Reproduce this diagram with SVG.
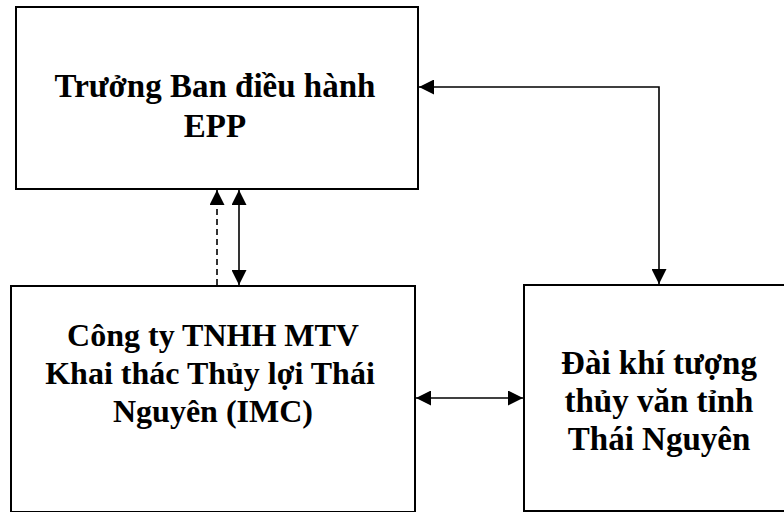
<svg xmlns="http://www.w3.org/2000/svg" width="784" height="512" viewBox="0 0 784 512">
<defs>
<style>
.box{fill:#fff;stroke:#000;stroke-width:2}
.lbl{font-family:"Liberation Serif","Times New Roman",serif;font-weight:bold;font-size:33px;fill:#000;text-anchor:middle}
.sm{font-size:32px}
.c{fill:none;stroke:#000;stroke-width:1.6}
.d{stroke-dasharray:6,4}
</style>
<marker id="ah" viewBox="0 0 15 15" refX="15" refY="7.5" markerWidth="15" markerHeight="15" markerUnits="userSpaceOnUse" orient="auto-start-reverse">
<path d="M0,0 L15,7.5 L0,15 Z" fill="#000"/>
</marker>
</defs>
<rect width="784" height="512" fill="#fff"/>
<g id="epp">
<rect class="box" x="16" y="7" width="402" height="182"/>
<text class="lbl" x="215" y="97">Trưởng Ban điều hành</text>
<text class="lbl" x="215" y="137">EPP</text>
</g>
<g id="imc">
<rect class="box" x="11" y="286" width="404" height="226"/>
<text class="lbl sm" x="213" y="346">Công ty TNHH MTV</text>
<text class="lbl sm" x="210" y="384">Khai thác Thủy lợi Thái</text>
<text class="lbl sm" x="213" y="422">Nguyên (IMC)</text>
</g>
<g id="dai">
<rect class="box" x="524" y="285" width="272" height="226"/>
<text class="lbl" x="659" y="374">Đài khí tượng</text>
<text class="lbl" x="659" y="412">thủy văn tỉnh</text>
<text class="lbl" x="659" y="450">Thái Nguyên</text>
</g>
<g id="connectors">
<line class="c d" x1="217" y1="285" x2="217" y2="190" marker-end="url(#ah)"/>
<line class="c" x1="239" y1="190" x2="239" y2="285" marker-start="url(#ah)" marker-end="url(#ah)"/>
<polyline class="c" points="419,87 659,87 659,284" marker-start="url(#ah)" marker-end="url(#ah)"/>
<line class="c" x1="416" y1="398" x2="523" y2="398" marker-start="url(#ah)" marker-end="url(#ah)"/>
</g>
</svg>
